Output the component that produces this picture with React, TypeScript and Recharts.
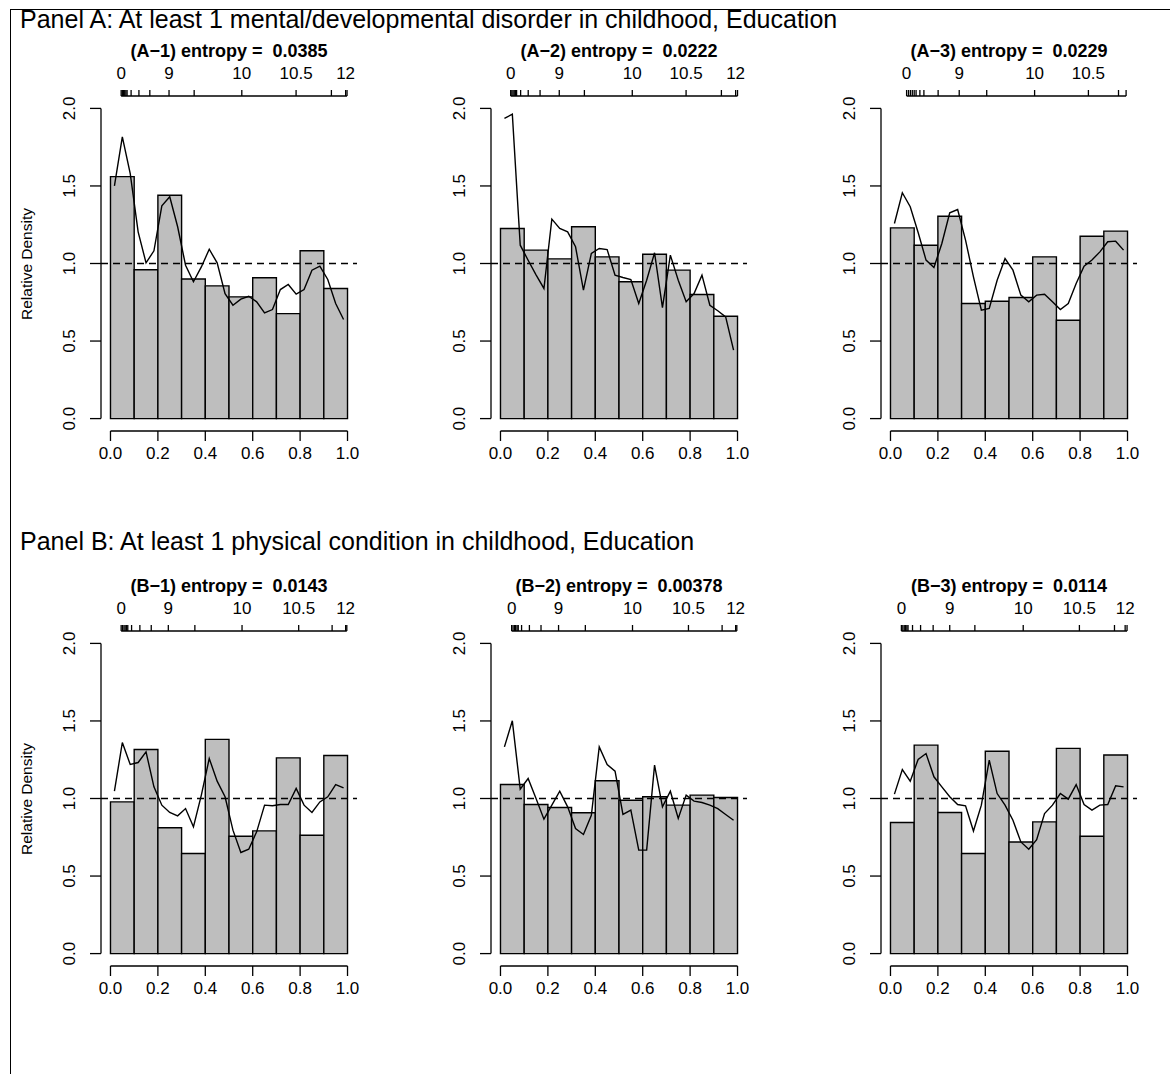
import React from "react";
import {
  ComposedChart,
  Line,
  XAxis,
  YAxis,
  ReferenceArea,
  ReferenceLine,
} from "recharts";

// histogram bins on the relative (0-1) scale
const binEdges = [0, 0.1, 0.2, 0.3, 0.4, 0.5, 0.6, 0.7, 0.8, 0.9, 1.0];
// evaluation grid of the smoothed density
const gridX = Array.from({ length: 30 }, (_, i) => (i + 0.5) / 30);
const bottomTicks = [0, 0.2, 0.4, 0.6, 0.8, 1.0];
const yTicks = [0, 0.5, 1, 1.5, 2];

// bar heights (relative density per bin)
const barsA1 = [1.56, 0.96, 1.44, 0.9, 0.856, 0.785, 0.908, 0.677, 1.082, 0.839];
const barsA2 = [1.226, 1.086, 1.03, 1.237, 1.043, 0.882, 1.06, 0.957, 0.8, 0.66];
const barsA3 = [1.23, 1.118, 1.305, 0.742, 0.757, 0.781, 1.043, 0.634, 1.176, 1.209];
const barsB1 = [0.978, 1.316, 0.811, 0.645, 1.381, 0.757, 0.791, 1.262, 0.763, 1.277];
const barsB2 = [1.09, 0.961, 0.942, 0.908, 1.114, 0.989, 1.011, 0.957, 1.022, 1.006];
const barsB3 = [0.845, 1.344, 0.91, 0.645, 1.305, 0.72, 0.849, 1.323, 0.757, 1.28];

// smoothed relative density on gridX
const lineA1 = [1.5, 1.817, 1.58, 1.204, 1.004, 1.082, 1.372, 1.43, 1.237, 0.989, 0.882, 0.978, 1.092, 1.004, 0.806, 0.731, 0.77, 0.789, 0.753, 0.682, 0.703, 0.832, 0.865, 0.802, 0.832, 0.957, 0.983, 0.897, 0.742, 0.639];
const lineA2 = [1.935, 1.963, 1.118, 1.021, 0.927, 0.839, 1.286, 1.226, 1.204, 1.108, 0.828, 1.065, 1.097, 1.09, 0.925, 0.91, 0.897, 0.742, 0.892, 1.069, 0.716, 1.054, 0.892, 0.753, 0.806, 0.925, 0.731, 0.695, 0.656, 0.441];
const lineA3 = [1.258, 1.456, 1.366, 1.2, 1.022, 0.974, 1.129, 1.327, 1.348, 1.151, 0.914, 0.699, 0.71, 0.892, 1.032, 0.957, 0.796, 0.753, 0.796, 0.802, 0.753, 0.703, 0.742, 0.871, 0.983, 1.022, 1.075, 1.14, 1.144, 1.086];
const lineB1 = [1.047, 1.361, 1.219, 1.232, 1.301, 1.075, 0.957, 0.91, 0.888, 0.935, 0.817, 1.022, 1.258, 1.112, 1.011, 0.796, 0.652, 0.673, 0.785, 0.957, 0.953, 0.961, 0.961, 1.065, 0.957, 0.91, 0.978, 1.011, 1.09, 1.069];
const lineB2 = [1.333, 1.501, 1.06, 1.129, 1.0, 0.867, 0.957, 1.047, 0.946, 0.806, 0.768, 0.892, 1.333, 1.219, 1.176, 0.897, 0.925, 0.667, 0.667, 1.215, 0.946, 1.047, 0.871, 1.022, 0.983, 0.974, 0.957, 0.935, 0.897, 0.86];
const lineB3 = [1.028, 1.187, 1.112, 1.252, 1.29, 1.14, 1.075, 1.011, 0.961, 0.953, 0.79, 0.957, 1.247, 1.032, 0.957, 0.86, 0.72, 0.673, 0.735, 0.903, 0.957, 1.032, 0.996, 1.09, 0.961, 0.925, 0.957, 0.961, 1.082, 1.075];

// top axis: education years at their relative positions
const topPosA1 = [0.045, 0.05, 0.055, 0.06, 0.065, 0.07, 0.087, 0.12, 0.166, 0.247, 0.353, 0.554, 0.783, 0.932, 0.992, 0.998];
const topLabA1 = ["0", "", "", "", "", "", "", "", "", "9", "", "10", "10.5", "", "12", ""];
const topPosA2 = [0.043, 0.048, 0.053, 0.058, 0.063, 0.068, 0.085, 0.117, 0.167, 0.248, 0.354, 0.556, 0.783, 0.932, 0.992, 1.0];
const topLabA2 = ["0", "", "", "", "", "", "", "", "", "9", "", "10", "10.5", "", "12", ""];
const topPosA3 = [0.068, 0.076, 0.084, 0.092, 0.1, 0.108, 0.124, 0.141, 0.201, 0.29, 0.406, 0.608, 0.835, 0.962, 0.994];
const topLabA3 = ["0", "", "", "", "", "", "", "", "", "9", "", "10", "10.5", "", ""];
const topPosB1 = [0.045, 0.051, 0.057, 0.062, 0.068, 0.073, 0.089, 0.124, 0.172, 0.244, 0.356, 0.555, 0.794, 0.935, 0.992, 0.997];
const topLabB1 = ["0", "", "", "", "", "", "", "", "", "9", "", "10", "10.5", "", "12", ""];
const topPosB2 = [0.047, 0.053, 0.059, 0.064, 0.07, 0.075, 0.089, 0.122, 0.171, 0.245, 0.358, 0.557, 0.793, 0.935, 0.992, 0.997];
const topLabB2 = ["0", "", "", "", "", "", "", "", "", "9", "", "10", "10.5", "", "12", ""];
const topPosB3 = [0.046, 0.052, 0.058, 0.063, 0.069, 0.074, 0.093, 0.127, 0.18, 0.25, 0.356, 0.56, 0.797, 0.945, 0.99, 0.998];
const topLabB3 = ["0", "", "", "", "", "", "", "", "", "9", "", "10", "10.5", "", "12", ""];

const FONT = "'Liberation Sans', Arial, Helvetica, sans-serif";
const PW = 256;
const PH = 335;
const colLeft = [101, 491, 881];
const rowTop = [96, 631];

type PanelDef = {
  id: string;
  entropy: string;
  bars: number[];
  line: number[];
  topPos: number[];
  topLab: string[];
};

const panelsA: PanelDef[] = [
  { id: "(A\u22121)", entropy: "0.0385", bars: barsA1, line: lineA1, topPos: topPosA1, topLab: topLabA1 },
  { id: "(A\u22122)", entropy: "0.0222", bars: barsA2, line: lineA2, topPos: topPosA2, topLab: topLabA2 },
  { id: "(A\u22123)", entropy: "0.0229", bars: barsA3, line: lineA3, topPos: topPosA3, topLab: topLabA3 },
];
const panelsB: PanelDef[] = [
  { id: "(B\u22121)", entropy: "0.0143", bars: barsB1, line: lineB1, topPos: topPosB1, topLab: topLabB1 },
  { id: "(B\u22122)", entropy: "0.00378", bars: barsB2, line: lineB2, topPos: topPosB2, topLab: topLabB2 },
  { id: "(B\u22123)", entropy: "0.0114", bars: barsB3, line: lineB3, topPos: topPosB3, topLab: topLabB3 },
];

function Panel({ p, left, top }: { p: PanelDef; left: number; top: number }) {
  const data = gridX.map((x, i) => ({ x, d: p.line[i] }));
  const axisStroke = { stroke: "#000", strokeWidth: 1.3 };
  return (
    <>
      <div
        style={{
          position: "absolute",
          left: left + PW / 2 - 160,
          top: top - 55,
          width: 320,
          textAlign: "center",
          fontFamily: FONT,
          fontWeight: "bold",
          fontSize: 18,
          lineHeight: "20px",
          whiteSpace: "pre",
        }}
      >
        {p.id + " entropy =  " + p.entropy}
      </div>
      <div style={{ position: "absolute", left: left - 90, top: top - 90 }}>
        <ComposedChart
          width={PW + 130}
          height={PH + 150}
          data={data}
          margin={{ top: 50, right: 40, bottom: 20, left: 50 }}
        >
          <XAxis
            xAxisId="b"
            dataKey="x"
            type="number"
            domain={[-0.04, 1.04]}
            allowDataOverflow
            ticks={bottomTicks}
            interval={0}
            tickFormatter={(v: number) => v.toFixed(1)}
            tick={{ fontSize: 17, fill: "#000", fontFamily: FONT }}
            tickSize={10}
            tickMargin={6}
            tickLine={axisStroke}
            axisLine={false}
            height={40}
          />
          <XAxis
            xAxisId="t"
            dataKey="x"
            orientation="top"
            type="number"
            domain={[-0.04, 1.04]}
            allowDataOverflow
            ticks={p.topPos}
            interval={0}
            tickSize={6}
            tickMargin={11}
            tickLine={axisStroke}
            axisLine={false}
            height={40}
            tick={(t: any) => {
              const lab = p.topLab[p.topPos.indexOf(t.payload.value)] ?? "";
              return (
                <text
                  x={t.x}
                  y={t.y}
                  textAnchor="middle"
                  fontSize={17}
                  fontFamily={FONT}
                  fill="#000"
                >
                  {lab}
                </text>
              );
            }}
          />
          <YAxis
            type="number"
            domain={[-0.08, 2.08]}
            allowDataOverflow
            ticks={yTicks}
            interval={0}
            tickSize={11}
            tickMargin={2}
            tickLine={axisStroke}
            axisLine={false}
            width={40}
            tick={(t: any) => (
              <text
                x={0}
                y={0}
                transform={`translate(${t.x - 19},${t.y}) rotate(-90)`}
                textAnchor="middle"
                dominantBaseline="central"
                fontSize={17}
                fontFamily={FONT}
                fill="#000"
              >
                {Number(t.payload.value).toFixed(1)}
              </text>
            )}
          />
          {p.bars.map((v, i) => (
            <ReferenceArea
              key={i}
              xAxisId="b"
              x1={binEdges[i]}
              x2={binEdges[i + 1]}
              y1={0}
              y2={v}
              fill="#bebebe"
              fillOpacity={1}
              stroke="#000"
              strokeWidth={1.4}
              ifOverflow="visible"
            />
          ))}
          {/* invisible series that binds the top axis to the data */}
          <Line
            xAxisId="t"
            dataKey="d"
            stroke="none"
            dot={false}
            activeDot={false}
            isAnimationActive={false}
          />
          <Line
            xAxisId="b"
            dataKey="d"
            type="linear"
            stroke="#000"
            strokeWidth={1.4}
            dot={false}
            activeDot={false}
            isAnimationActive={false}
          />
          <ReferenceLine
            xAxisId="b"
            y={1}
            stroke="#000"
            strokeWidth={1.4}
            strokeDasharray="7 5"
            ifOverflow="visible"
          />
          <ReferenceLine
            xAxisId="b"
            segment={[{ x: 0, y: -0.08 }, { x: 1, y: -0.08 }]}
            {...axisStroke}
            ifOverflow="visible"
          />
          <ReferenceLine
            xAxisId="b"
            segment={[{ x: -0.04, y: 0 }, { x: -0.04, y: 2 }]}
            {...axisStroke}
            ifOverflow="visible"
          />
          <ReferenceLine
            xAxisId="b"
            segment={[
              { x: p.topPos[0], y: 2.08 },
              { x: p.topPos[p.topPos.length - 1], y: 2.08 },
            ]}
            {...axisStroke}
            ifOverflow="visible"
          />
        </ComposedChart>
      </div>
    </>
  );
}

export default function App() {
  const header = (text: string, top: number) => (
    <div
      style={{
        position: "absolute",
        left: 20,
        top,
        fontFamily: FONT,
        fontSize: 25,
        lineHeight: "30px",
        whiteSpace: "pre",
      }}
    >
      {text}
    </div>
  );
  const yLabel = (cy: number) => (
    <div
      style={{
        position: "absolute",
        left: 27 - 100,
        top: cy - 10,
        width: 200,
        height: 20,
        lineHeight: "20px",
        textAlign: "center",
        fontFamily: FONT,
        fontSize: 15.5,
        transform: "rotate(-90deg)",
      }}
    >
      Relative Density
    </div>
  );
  return (
    <div
      style={{
        position: "absolute",
        left: 0,
        top: 0,
        width: 1170,
        height: 1074,
        background: "#fff",
        overflow: "hidden",
      }}
    >
      <div
        style={{
          position: "absolute",
          left: 10,
          top: 9,
          width: 1200,
          height: 1100,
          borderTop: "1.5px solid #000",
          borderLeft: "1.5px solid #000",
        }}
      />
      {header("Panel A: At least 1 mental/developmental disorder in childhood, Education", 4)}
      {header("Panel B: At least 1 physical condition in childhood, Education", 526)}
      {yLabel(rowTop[0] + PH / 2)}
      {yLabel(rowTop[1] + PH / 2)}
      {panelsA.map((p, i) => (
        <Panel key={p.id} p={p} left={colLeft[i]} top={rowTop[0]} />
      ))}
      {panelsB.map((p, i) => (
        <Panel key={p.id} p={p} left={colLeft[i]} top={rowTop[1]} />
      ))}
    </div>
  );
}
